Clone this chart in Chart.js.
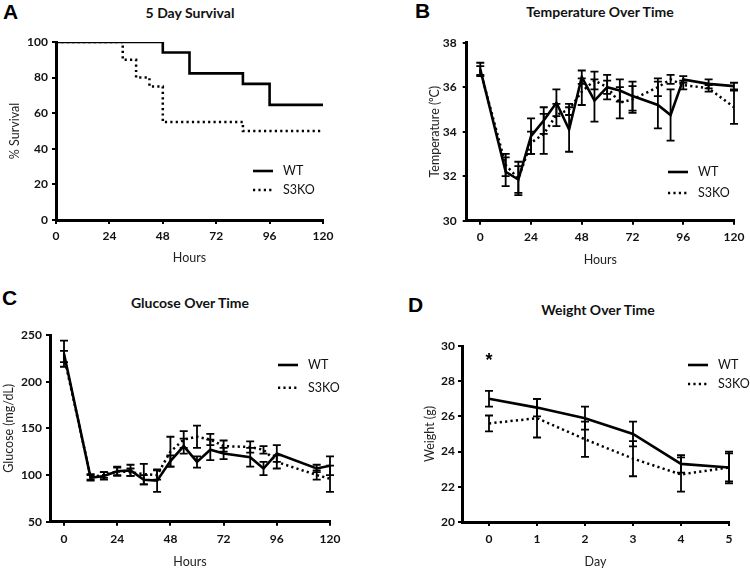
<!DOCTYPE html>
<html>
<head>
<meta charset="utf-8">
<script src="https://cdn.jsdelivr.net/npm/chart.js@4"></script>
<style>
  body { margin: 0; background: #fff; }
  #page { position: relative; width: 750px; height: 571px; background: #fff; font-family: Lato, sans-serif; }
  canvas { position: absolute; }
  .letter { position: absolute; font: bold 21px "Liberation Sans", Arial, sans-serif; line-height: 20px; color: #000; }
  .ptitle { position: absolute; font: bold 14px Lato, sans-serif; line-height: 16px; color: #111; transform: translateX(-50%); white-space: nowrap; }
</style>
</head>
<body>
<div id="page">
  <div class="letter" style="left:3px;top:2px">A</div>
  <div class="letter" style="left:415px;top:1px">B</div>
  <div class="letter" style="left:2px;top:288px">C</div>
  <div class="letter" style="left:408px;top:295px">D</div>
  <div class="ptitle" style="left:190px;top:5px">5 Day Survival</div>
  <div class="ptitle" style="left:600px;top:4px">Temperature Over Time</div>
  <div class="ptitle" style="left:190px;top:295px">Glucose Over Time</div>
  <div class="ptitle" style="left:598px;top:302px">Weight Over Time</div>
  <canvas id="chartA" width="375" height="285" style="left:0;top:0"></canvas>
  <canvas id="chartB" width="375" height="285" style="left:375px;top:0"></canvas>
  <canvas id="chartC" width="375" height="286" style="left:0;top:285px"></canvas>
  <canvas id="chartD" width="375" height="286" style="left:375px;top:285px"></canvas>
</div>
<script>
// A: survival (%)
const survWTHours = [0, 48, 60, 84, 96, 120];
const survWT = [100, 94.1, 82.4, 76.5, 64.7, 64.7];
const survKOHours = [0, 30, 36, 42, 48, 84, 120];
const survKO = [100, 90, 80, 75, 55, 50, 50];
const survTicks = [0, 20, 40, 60, 80, 100];

// B: temperature (C)
const tempHours = [0, 12, 18, 24, 30, 36, 42, 48, 54, 60, 66, 72, 84, 90, 96, 108, 120];
const tempWT = [36.8, 32.2, 31.85, 33.8, 34.5, 35.3, 34.1, 36.45, 35.4, 36.0, 35.85, 35.6, 35.2, 34.75, 36.35, 36.15, 36.05];
const tempWTErr = [0.3, 0.65, 0.6, 0.8, 0.6, 0.6, 1.0, 0.3, 0.95, 0.55, 0.5, 0.65, 1.05, 1.15, 0.15, 0.2, 0.15];
const tempKO = [36.75, 32.5, 31.9, 33.5, 33.9, 34.75, 35.0, 35.8, 36.3, 36.0, 35.3, 35.45, 36.0, 36.35, 36.1, 35.95, 35.1];
const tempKOErr = [0.2, 0.5, 0.75, 0.5, 0.9, 0.5, 0.25, 0.6, 0.4, 0.3, 0.7, 0.6, 0.4, 0.2, 0.2, 0.15, 0.75];
const tempTicks = [30, 32, 34, 36, 38];

// C: glucose (mg/dL)
const glucHours = [0, 12, 18, 24, 30, 36, 42, 48, 54, 60, 66, 72, 84, 90, 96, 114, 120];
const glucWT = [230, 97, 99, 104, 105, 95, 94, 115, 131, 114, 127, 123, 119, 107, 123, 107, 110];
const glucWTErr = [14, 3, 4, 5, 6, 5, 12, 6, 8, 6, 11, 6, 10, 7, 9, 4, 10];
const glucKO = [227, 98, 100, 104, 103, 101, 100, 125, 138, 141, 138, 131, 130, 127, 114, 100, 96];
const glucKOErr = [6, 3, 3, 4, 4, 11, 5, 16, 9, 12, 6, 6, 6, 4, 7, 5, 14];
const glucTicks = [50, 100, 150, 200, 250];

// D: weight (g)
const weightDays = [0, 1, 2, 3, 4, 5];
const weightWT = [27.0, 26.5, 25.9, 25.0, 23.3, 23.1];
const weightWTErr = [0.45, 0.5, 0.65, 0.7, 0.5, 0.8];
const weightKO = [25.6, 25.9, 24.7, 23.6, 22.7, 23.1];
const weightKOErr = [0.45, 1.1, 1.0, 1.0, 0.97, 0.9];
const weightTicks = [20, 22, 24, 26, 28, 30];
const hourTicks = [0, 24, 48, 72, 96, 120];

const seriesNames = ["WT", "S3KO"];

function points(xs, ys) {
  return xs.map((x, i) => ({ x: x, y: ys[i] }));
}

// vertical error bars with caps, drawn through the y scale
const errorBars = {
  id: "errorBars",
  afterDatasetsDraw(chart) {
    const ctx = chart.ctx;
    const ys = chart.scales.y;
    chart.data.datasets.forEach((ds, i) => {
      if (!ds.errors) return;
      const meta = chart.getDatasetMeta(i);
      ctx.save();
      ctx.strokeStyle = "#000";
      ctx.lineWidth = 1.8;
      ctx.setLineDash([]);
      meta.data.forEach((pt, j) => {
        const v = ds.data[j].y;
        const e = ds.errors[j];
        const top = ys.getPixelForValue(v + e);
        const bot = ys.getPixelForValue(v - e);
        ctx.beginPath();
        ctx.moveTo(pt.x, top);
        ctx.lineTo(pt.x, bot);
        ctx.moveTo(pt.x - 4, top);
        ctx.lineTo(pt.x + 4, top);
        ctx.moveTo(pt.x - 4, bot);
        ctx.lineTo(pt.x + 4, bot);
        ctx.stroke();
      });
      ctx.restore();
    });
  },
};

// small legend inside the plot
const innerLegend = {
  id: "innerLegend",
  afterDraw(chart, args, opts) {
    const ctx = chart.ctx;
    chart.data.datasets.forEach((ds, i) => {
      const y = opts.y + i * opts.gap;
      ctx.save();
      ctx.strokeStyle = "#000";
      ctx.lineWidth = ds.borderWidth;
      ctx.setLineDash(ds.borderDash || []);
      ctx.beginPath();
      ctx.moveTo(opts.x, y);
      ctx.lineTo(opts.x + 20, y);
      ctx.stroke();
      ctx.setLineDash([]);
      ctx.fillStyle = "#111";
      ctx.font = "12.5px Lato";
      ctx.textBaseline = "middle";
      ctx.fillText(ds.label, opts.x + 30, y);
      ctx.restore();
    });
    if (opts.star) {
      ctx.save();
      ctx.fillStyle = "#000";
      ctx.font = "bold 18px 'Liberation Sans'";
      ctx.textAlign = "center";
      ctx.textBaseline = "middle";
      ctx.fillText("*", chart.scales.x.getPixelForValue(opts.star.x), chart.scales.y.getPixelForValue(opts.star.y) + 3);
      ctx.restore();
    }
  },
};

function makeDatasets(wt, ko, wtErr, koErr, stepped) {
  return [
    {
      label: seriesNames[0],
      data: wt,
      errors: wtErr,
      borderColor: "#000",
      borderWidth: 2.6,
      pointRadius: 0,
      stepped: stepped,
      tension: 0,
    },
    {
      label: seriesNames[1],
      data: ko,
      errors: koErr,
      borderColor: "#000",
      borderWidth: 2.5,
      borderDash: [2.2, 3.2],
      pointRadius: 0,
      stepped: stepped,
      tension: 0,
    },
  ];
}

function makeChart(id, datasets, cfg) {
  const axisFont = { family: "Lato", size: 12.5 };
  const tickFont = { family: "Lato", size: 12, weight: "bold" };
  return new Chart(document.getElementById(id), {
    type: "line",
    data: { datasets: datasets },
    plugins: [errorBars, innerLegend],
    options: {
      responsive: false,
      animation: false,
      devicePixelRatio: 1,
      layout: { padding: cfg.padding },
      plugins: {
        legend: { display: false },
        tooltip: { enabled: false },
        innerLegend: cfg.legend,
      },
      scales: {
        x: {
          type: "linear",
          min: cfg.xMin,
          max: cfg.xMax,
          afterBuildTicks: (s) => { s.ticks = cfg.xTicks.map((v) => ({ value: v })); },
          afterFit: (s) => { s.height = cfg.xHeight; },
          ticks: { font: tickFont, color: "#111", padding: cfg.xPad, maxRotation: 0 },
          grid: { drawOnChartArea: false, tickLength: 4, lineWidth: 2, color: "#000" },
          border: { display: true, width: 3, color: "#000" },
          title: { display: true, text: cfg.xTitle, font: axisFont, color: "#222", padding: { top: 0, bottom: cfg.xTitlePad } },
        },
        y: {
          min: cfg.yTicks[0],
          max: cfg.yTicks[cfg.yTicks.length - 1],
          afterBuildTicks: (s) => { s.ticks = cfg.yTicks.map((v) => ({ value: v })); },
          afterFit: (s) => { s.width = cfg.yWidth; },
          ticks: { font: tickFont, color: "#111", padding: cfg.yPad },
          grid: { drawOnChartArea: false, tickLength: 4, lineWidth: 2, color: "#000" },
          border: { display: true, width: 3, color: "#000" },
          title: { display: true, text: cfg.yTitle, font: axisFont, color: "#222", padding: { top: cfg.yTitlePad, bottom: 0 } },
        },
      },
    },
  });
}

makeChart("chartA", makeDatasets(points(survWTHours, survWT), points(survKOHours, survKO), null, null, "before"), {
  padding: { left: 0, top: 42, right: 52, bottom: 0 },
  xMin: 0, xMax: 120, xTicks: hourTicks, xHeight: 65, xPad: 5.4, xTitle: "Hours", xTitlePad: 19.5,
  yTicks: survTicks, yWidth: 56, yPad: 4, yTitle: "% Survival", yTitlePad: 7.5,
  legend: { x: 253, y: 171, gap: 19 },
});

makeChart("chartB", makeDatasets(points(tempHours, tempWT), points(tempHours, tempKO), tempWTErr, tempKOErr, false), {
  padding: { left: 0, top: 42.7, right: 16, bottom: 0 },
  xMin: -6.43, xMax: 120, xTicks: hourTicks, xHeight: 64.3, xPad: 5.4, xTitle: "Hours", xTitlePad: 17.5,
  yTicks: tempTicks, yWidth: 91.7, yPad: 6, yTitle: "Temperature (\u2070C)", yTitlePad: 52.5,
  legend: { x: 293, y: 172, gap: 21 },
});

makeChart("chartC", makeDatasets(points(glucHours, glucWT), points(glucHours, glucKO), glucWTErr, glucKOErr, false), {
  padding: { left: 0, top: 50, right: 45, bottom: 0 },
  xMin: -6.32, xMax: 120, xTicks: hourTicks, xHeight: 49.3, xPad: 6.4, xTitle: "Hours", xTitlePad: 1.8,
  yTicks: glucTicks, yWidth: 50, yPad: 4, yTitle: "Glucose (mg/dL)", yTitlePad: 1,
  legend: { x: 278, y: 80, gap: 22.7 },
});

makeChart("chartD", makeDatasets(points(weightDays, weightWT), points(weightDays, weightKO), weightWTErr, weightKOErr, false), {
  padding: { left: 0, top: 61, right: 21, bottom: 0 },
  xMin: -0.5625, xMax: 5, xTicks: weightDays, xHeight: 49, xPad: 6.4, xTitle: "Day", xTitlePad: 1.8,
  yTicks: weightTicks, yWidth: 87, yPad: 3, yTitle: "Weight (g)", yTitlePad: 47.5,
  legend: { x: 313, y: 80, gap: 19, star: { x: 0, y: 29.3 } },
});
</script>
</body>
</html>
